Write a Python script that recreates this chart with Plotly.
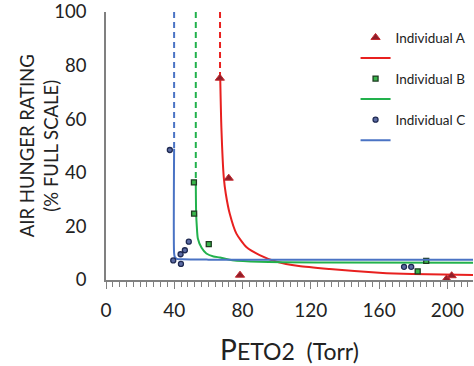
import plotly.graph_objects as go

# ---- data ----
a_x = [66.7, 71.9, 78.5, 199.5, 202.5]
a_y = [75.3, 38.0, 1.8, 0.4, 1.6]
b_x = [51.5, 51.6, 60.2, 182.6, 187.6]
b_y = [36.4, 24.8, 13.4, 3.2, 7.1]
c_x = [37.4, 39.4, 43.7, 43.9, 46.2, 48.5, 174.6, 178.8]
c_y = [48.5, 7.3, 9.6, 6.0, 11.1, 14.3, 4.9, 4.9]

# fitted curves
a_fit_x = [66.9, 67.6, 69.0, 70.2, 72.5, 76.4, 82.2, 90.0, 100.0, 113.0, 131.0, 160.0, 179.5, 215.0]
a_fit_y = [76.0, 56.8, 38.3, 32.1, 24.7, 17.3, 12.3, 9.3, 6.8, 5.2, 4.1, 2.7, 2.2, 1.85]
b_fit_x = [52.6, 52.8, 53.2, 53.8, 56.0, 58.8, 63.0, 66.7, 70.5, 74.0, 90.0, 132.0, 215.0]
b_fit_y = [37.0, 25.0, 20.0, 15.5, 12.0, 9.9, 8.8, 8.4, 7.8, 7.4, 6.8, 6.5, 6.4]
c_fit_x = [39.9, 39.9, 40.3, 41.5, 45.0, 60.0, 215.0]
c_fit_y = [49.0, 10.0, 8.6, 7.9, 7.7, 7.6, 7.6]

# asymptotes (dashed)
a_asym_x = [66.8, 66.8]
a_asym_y = [100, 76.0]
b_asym_x = [52.6, 52.6]
b_asym_y = [100, 37.0]
c_asym_x = [39.9, 39.9]
c_asym_y = [100, 49.0]

x_ticks = [0, 40, 80, 120, 160, 200]
y_ticks = [0, 20, 40, 60, 80, 100]
names = ["Individual A", "Individual B", "Individual C"]

RED = "#e8201f"
GREEN = "#22b14c"
BLUE = "#4a73c4"
FONT = "Lato"

fig = go.Figure()

def add_set(fx, fy, ax, ay, px, py, color, marker, name, rank):
    fig.add_trace(go.Scatter(x=ax, y=ay, mode="lines", showlegend=False,
                             line=dict(color=color, width=2, dash="6px,4px"),
                             hoverinfo="skip"))
    fig.add_trace(go.Scatter(x=fx, y=fy, mode="lines", name=" ",
                             line=dict(color=color, width=2, shape="spline", smoothing=0.6),
                             legendrank=rank + 1, cliponaxis=False))
    fig.add_trace(go.Scatter(x=px, y=py, mode="markers", name=name,
                             marker=marker, legendrank=rank, cliponaxis=False))

add_set(a_fit_x, a_fit_y, a_asym_x, a_asym_y, a_x, a_y, RED,
        dict(symbol="triangle-up", size=8, color="#8e1f2a", line=dict(color="#c4262c", width=1)),
        names[0], 1)
add_set(b_fit_x, b_fit_y, b_asym_x, b_asym_y, b_x, b_y, GREEN,
        dict(symbol="square", size=5, color="#39b54a", line=dict(color="#1d3b20", width=1.3)),
        names[1], 3)
add_set(c_fit_x, c_fit_y, c_asym_x, c_asym_y, c_x, c_y, BLUE,
        dict(symbol="circle", size=5, color="#5b6ba3", line=dict(color="#1f2a52", width=1.3)),
        names[2], 5)

fig.update_layout(
    width=474, height=366,
    margin=dict(l=106, r=1, t=12, b=86, autoexpand=False),
    paper_bgcolor="white", plot_bgcolor="white",
    font=dict(family=FONT, color="#222222"),
    legend=dict(x=0.68, y=0.962, xanchor="left", yanchor="top",
                font=dict(family=FONT, size=13.5, color="#222222"),
                bgcolor="rgba(0,0,0,0)", traceorder="normal",
                tracegroupgap=0, itemwidth=30),
    annotations=[dict(text="AIR HUNGER RATING<br>(% FULL SCALE)",
                      xref="paper", yref="paper", x=-0.182, y=0.5,
                      xanchor="center", yanchor="middle", textangle=-90,
                      showarrow=False,
                      font=dict(size=18.5, family=FONT, color="#222222"))],
)

fig.update_xaxes(
    range=[0, 215], showgrid=False, zeroline=False, automargin=False,
    showline=True, linecolor="#808080", linewidth=1.5,
    tickvals=x_ticks, ticktext=[str(v) for v in x_ticks],
    ticks="outside", ticklen=7, tickcolor="#808080", tickwidth=1,
    minor=dict(dtick=4, tick0=0, ticks="outside", ticklen=5, tickcolor="#808080", tickwidth=1),
    tickfont=dict(size=19, family=FONT, color="#222222"),
    ticklabelstandoff=5, ticklabeloverflow="allow",
    title=dict(text="<span style='font-size:28px'>P</span>ETO2&nbsp;&nbsp;(Torr)",
               font=dict(size=23, family=FONT, color="#222222"), standoff=52),
)
fig.update_yaxes(
    range=[0, 100], showgrid=False, zeroline=False, automargin=False,
    showline=True, linecolor="#808080", linewidth=1.5,
    tickvals=y_ticks, ticktext=[str(v) for v in y_ticks],
    ticks="", tickfont=dict(size=18.5, family=FONT, color="#222222"),
    ticklabelstandoff=14, ticklabeloverflow="allow",
)

# remove the browser's default 8px body margin so the figure fills the window exactly
fig.write_html("out.html", config={"displayModeBar": False},
               post_script="document.body.style.margin='0px';")
